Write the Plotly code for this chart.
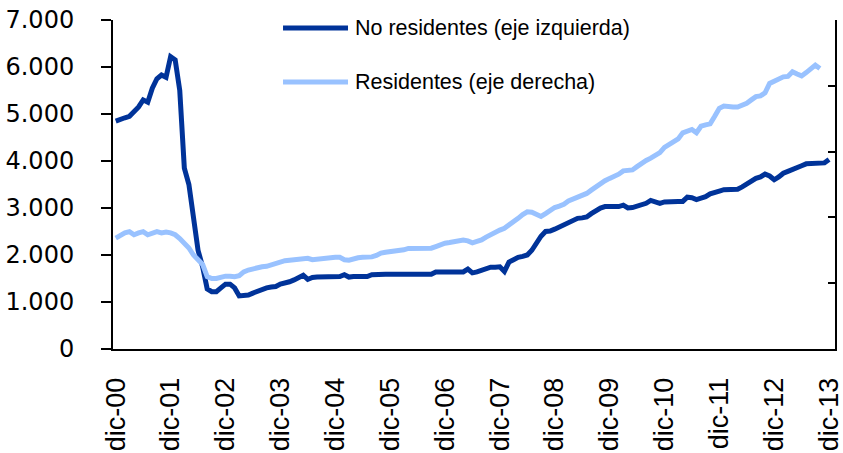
import plotly.graph_objects as go

# Monthly data, dic-00 (Dec 2000) onward
no_residentes = [
    4850, 4900, 4920, 4950, 5050, 5150, 5300, 5250, 5550, 5750, 5830, 5780,
    6220, 6150, 5500, 3850, 3500, 2800, 2100, 1750, 1280, 1220, 1220, 1300,
    1380, 1380, 1300, 1130, 1130, 1150, 1190, 1230, 1280, 1300, 1320, 1330,
    1380, 1400, 1430, 1470, 1520, 1570, 1480, 1520, 1530, 1530, 1530, 1530,
    1530, 1540, 1580, 1530, 1540, 1540, 1540, 1540, 1580, 1590, 1590, 1590,
    1590, 1590, 1590, 1590, 1590, 1590, 1590, 1590, 1590, 1590, 1640, 1640,
    1640, 1640, 1640, 1640, 1640, 1700, 1620, 1640, 1680, 1700, 1740, 1740,
    1750, 1650, 1850, 1900, 1950, 1970, 2000, 2100, 2250, 2400, 2500, 2510,
    2550, 2600, 2640, 2670, 2720, 2780, 2790, 2810, 2880, 2950, 3000, 3030,
    3030, 3030, 3030, 3060, 3000, 3010, 3040, 3070, 3100, 3160, 3140, 3100,
    3130, 3140, 3140, 3140, 3140, 3230, 3220, 3180, 3210, 3240, 3300, 3320,
    3360, 3390, 3400, 3400, 3400, 3450, 3520, 3580, 3630, 3660, 3720, 3680,
    3600, 3660, 3740, 3780, 3830, 3860, 3900, 3940, 3940, 3940, 3940, 3960,
    4030,
]

# Residentes, read in units where the right axis spans 0-7000 over 5 intervals
residentes = [
    2360, 2420, 2470, 2497, 2430, 2470, 2497, 2430, 2470, 2497, 2470, 2490,
    2470, 2430, 2350, 2250, 2150, 2000, 1880, 1800, 1540, 1500, 1500, 1530,
    1550, 1550, 1540, 1560, 1640, 1680, 1710, 1740, 1750, 1760, 1790, 1810,
    1860, 1880, 1890, 1900, 1920, 1930, 1930, 1900, 1910, 1930, 1950, 1950,
    1950, 1950, 1900, 1890, 1920, 1940, 1950, 1950, 1960, 1990, 2040, 2060,
    2070, 2090, 2100, 2110, 2140, 2140, 2140, 2140, 2140, 2145, 2180, 2220,
    2250, 2265, 2280, 2300, 2320, 2300, 2260, 2290, 2320, 2380, 2440, 2500,
    2530, 2570, 2630, 2700, 2780, 2860, 2920, 2910, 2860, 2820, 2880, 2960,
    3010, 3040, 3080, 3150, 3190, 3240, 3280, 3310, 3380, 3450, 3530, 3580,
    3630, 3670, 3720, 3790, 3810, 3810, 3880, 3960, 4010, 4060, 4120, 4180,
    4290, 4350, 4380, 4470, 4600, 4640, 4670, 4600, 4740, 4770, 4790, 4950,
    5120, 5170, 5150, 5150, 5150, 5190, 5230, 5300, 5370, 5385, 5450, 5650,
    5700, 5720, 5790, 5800, 5900, 5850, 5810, 5880, 5970, 6040, 5970,
]

tick_labels = ["dic-00", "dic-01", "dic-02", "dic-03", "dic-04", "dic-05", "dic-06",
               "dic-07", "dic-08", "dic-09", "dic-10", "dic-11", "dic-12", "dic-13"]
left_ticks = [0, 1000, 2000, 3000, 4000, 5000, 6000, 7000]
left_tick_text = ["0", "1.000", "2.000", "3.000", "4.000", "5.000", "6.000", "7.000"]
legend_names = ["No residentes (eje izquierda)", "Residentes (eje derecha)"]

DARK = "#003399"
LIGHT = "#99C2FF"

months_nr = list(range(len(no_residentes)))
months_r = list(range(len(residentes)))
tick_pos = [12 * i for i in range(len(tick_labels))]

fig = go.Figure()
fig.add_trace(go.Scatter(x=months_r, y=residentes, mode="lines", yaxis="y2",
                         line=dict(color=LIGHT, width=5), name=legend_names[1],
                         showlegend=False))
fig.add_trace(go.Scatter(x=months_nr, y=no_residentes, mode="lines",
                         line=dict(color=DARK, width=5), name=legend_names[0],
                         showlegend=False))

# Custom legend (long line samples)
for i, (name, col) in enumerate(zip(legend_names, [DARK, LIGHT])):
    yy = 0.9757 - i * 0.164
    fig.add_shape(type="line", xref="paper", yref="paper", x0=0.2355, x1=0.3255,
                  y0=yy, y1=yy, line=dict(color=col, width=5))
    fig.add_annotation(xref="paper", yref="paper", x=0.333, y=yy, text=name,
                       showarrow=False, xanchor="left", yanchor="middle",
                       font=dict(family="Liberation Sans, Arial", size=21.5, color="black"))

fig.update_layout(
    width=843, height=453,
    margin=dict(l=113, r=8, t=20, b=104, autoexpand=False),
    paper_bgcolor="white", plot_bgcolor="white",
    xaxis=dict(range=[-0.6, 157.3], tickvals=tick_pos, ticktext=tick_labels,
               tickangle=-90, showgrid=False, zeroline=False, automargin=False,
               showline=True, linecolor="black", linewidth=2, ticks="",
               ticklabelstandoff=16, ticklabeloverflow="allow",
               tickfont=dict(family="Liberation Sans, Arial", size=27, color="black")),
    yaxis=dict(range=[0, 7000], tickvals=left_ticks, ticktext=left_tick_text,
               showgrid=False, zeroline=False, showline=True, linecolor="black",
               automargin=False,
               linewidth=2, ticks="outside", ticklen=10, tickwidth=2, tickcolor="black",
               ticklabelstandoff=22,
               tickfont=dict(family="DejaVu Sans", size=24, color="black")),
    yaxis2=dict(range=[0, 7000], dtick=1400, overlaying="y", side="right",
                showgrid=False, zeroline=False, showline=True, linecolor="black",
                automargin=False,
                linewidth=2, ticks="inside", ticklen=7, tickwidth=2, tickcolor="black",
                showticklabels=False),
)

fig.write_html("out.html", config={"displayModeBar": False},
               post_script="document.body.style.margin='0px';document.body.style.overflow='hidden';")
